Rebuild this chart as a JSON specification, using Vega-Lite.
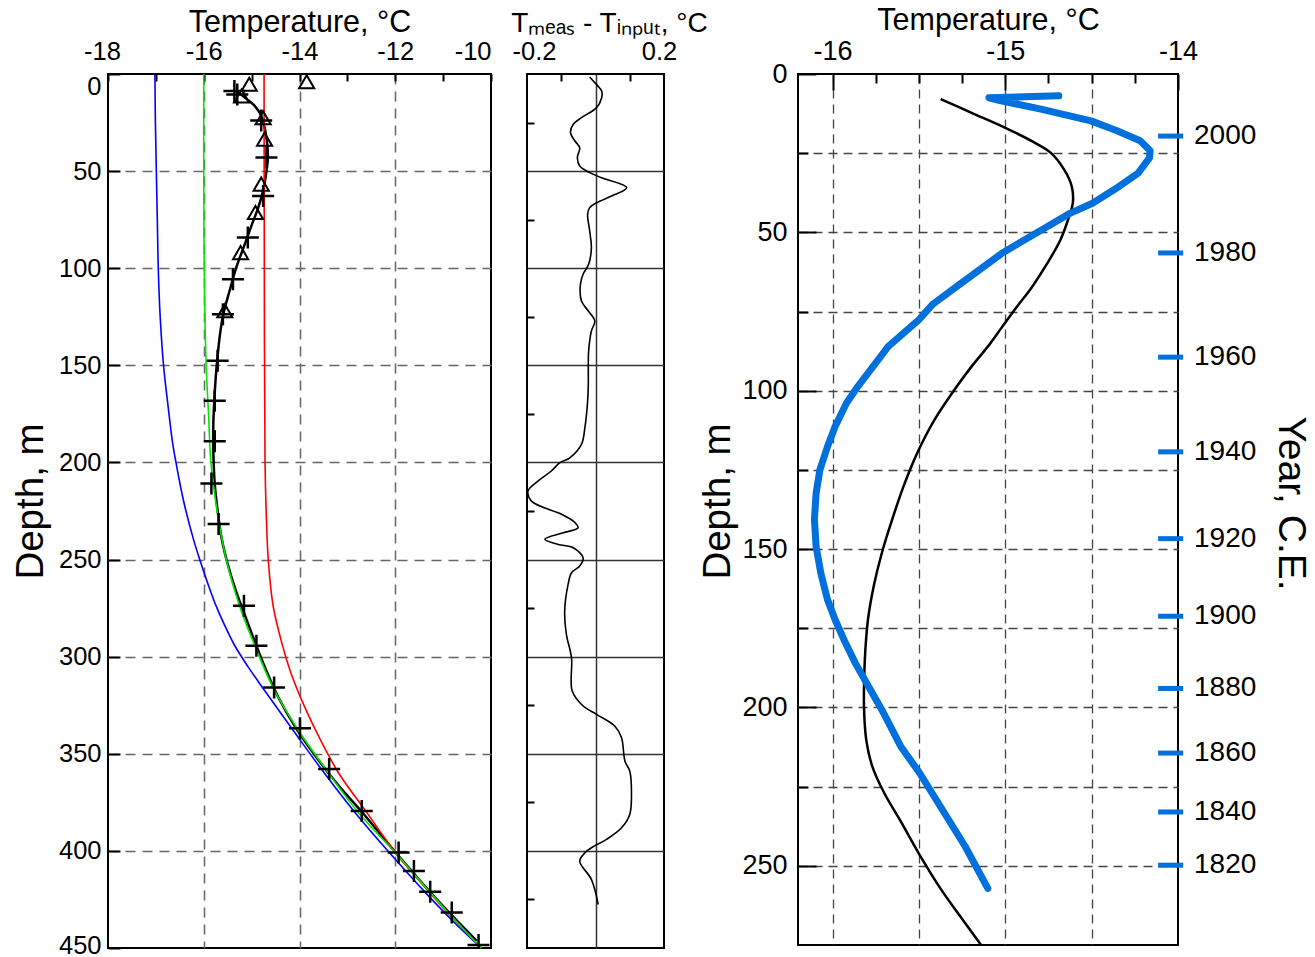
{
  "$schema": "https://vega.github.io/schema/vega-lite/v6.json",
  "background": "white",
  "padding": {"left": 10, "top": 4, "right": 8, "bottom": 4},
  "bounds": "flush",
  "spacing": 36,
  "config": {
    "font": "Liberation Sans",
    "view": {"stroke": "black", "strokeWidth": 2},
    "axis": {"domain": false, "labelColor": "black", "titleColor": "black", "titleFontWeight": "normal", "tickColor": "black", "tickWidth": 2, "labelFont": "Liberation Sans", "titleFont": "Liberation Sans", "labelFlush": false}
  },
  "datasets": {
    "fits": [
      {"model": "fit1", "depth": 0, "T": -17.02}, {"model": "fit1", "depth": 25, "T": -17.01}, {"model": "fit1", "depth": 50, "T": -16.99}, {"model": "fit1", "depth": 75, "T": -16.97}, {"model": "fit1", "depth": 100, "T": -16.95}, {"model": "fit1", "depth": 125, "T": -16.91}, {"model": "fit1", "depth": 150, "T": -16.84}, {"model": "fit1", "depth": 170, "T": -16.75}, {"model": "fit1", "depth": 190, "T": -16.65}, {"model": "fit1", "depth": 200, "T": -16.58}, {"model": "fit1", "depth": 220, "T": -16.42}, {"model": "fit1", "depth": 240, "T": -16.21}, {"model": "fit1", "depth": 251, "T": -16.07}, {"model": "fit1", "depth": 262, "T": -15.92}, {"model": "fit1", "depth": 274, "T": -15.74}, {"model": "fit1", "depth": 284, "T": -15.56}, {"model": "fit1", "depth": 294, "T": -15.36}, {"model": "fit1", "depth": 305, "T": -15.08}, {"model": "fit1", "depth": 316, "T": -14.77}, {"model": "fit1", "depth": 337, "T": -14.16}, {"model": "fit1", "depth": 358, "T": -13.54}, {"model": "fit1", "depth": 380, "T": -12.85}, {"model": "fit1", "depth": 401, "T": -12.12}, {"model": "fit1", "depth": 422, "T": -11.35}, {"model": "fit1", "depth": 436, "T": -10.8}, {"model": "fit1", "depth": 450, "T": -10.2},
      {"model": "fit2", "depth": 0, "T": -16.0}, {"model": "fit2", "depth": 50, "T": -16.0}, {"model": "fit2", "depth": 100, "T": -15.99}, {"model": "fit2", "depth": 150, "T": -15.95}, {"model": "fit2", "depth": 175, "T": -15.9}, {"model": "fit2", "depth": 200, "T": -15.85}, {"model": "fit2", "depth": 225, "T": -15.72}, {"model": "fit2", "depth": 250, "T": -15.53}, {"model": "fit2", "depth": 274, "T": -15.25}, {"model": "fit2", "depth": 294, "T": -14.94}, {"model": "fit2", "depth": 316, "T": -14.55}, {"model": "fit2", "depth": 337, "T": -14.05}, {"model": "fit2", "depth": 358, "T": -13.45}, {"model": "fit2", "depth": 380, "T": -12.78}, {"model": "fit2", "depth": 401, "T": -12.0}, {"model": "fit2", "depth": 422, "T": -11.25}, {"model": "fit2", "depth": 436, "T": -10.74}, {"model": "fit2", "depth": 450, "T": -10.2},
      {"model": "fit3", "depth": 0, "T": -14.74}, {"model": "fit3", "depth": 100, "T": -14.735}, {"model": "fit3", "depth": 200, "T": -14.72}, {"model": "fit3", "depth": 230, "T": -14.69}, {"model": "fit3", "depth": 251, "T": -14.65}, {"model": "fit3", "depth": 274, "T": -14.55}, {"model": "fit3", "depth": 292, "T": -14.38}, {"model": "fit3", "depth": 309, "T": -14.17}, {"model": "fit3", "depth": 326, "T": -13.89}, {"model": "fit3", "depth": 343, "T": -13.56}, {"model": "fit3", "depth": 360, "T": -13.18}, {"model": "fit3", "depth": 379, "T": -12.63}, {"model": "fit3", "depth": 401, "T": -11.99}, {"model": "fit3", "depth": 422, "T": -11.26}, {"model": "fit3", "depth": 436, "T": -10.75}, {"model": "fit3", "depth": 450, "T": -10.2}
    ],
    "profile": [
      {"depth": 9, "T": -15.3}, {"depth": 12, "T": -15.15}, {"depth": 16, "T": -14.95}, {"depth": 21.5, "T": -14.8}, {"depth": 32.8, "T": -14.69}, {"depth": 43, "T": -14.66}, {"depth": 50, "T": -14.69}, {"depth": 60, "T": -14.76}, {"depth": 68.7, "T": -14.86}, {"depth": 77.2, "T": -14.99}, {"depth": 87.5, "T": -15.14}, {"depth": 99.6, "T": -15.32}, {"depth": 111.6, "T": -15.46}, {"depth": 123.6, "T": -15.59}, {"depth": 133.9, "T": -15.66}, {"depth": 147.6, "T": -15.72}, {"depth": 156.3, "T": -15.75}, {"depth": 168.2, "T": -15.78}, {"depth": 180.3, "T": -15.8}, {"depth": 194, "T": -15.8}, {"depth": 211.2, "T": -15.77}, {"depth": 224.9, "T": -15.71}, {"depth": 238.6, "T": -15.63}, {"depth": 252.3, "T": -15.5}, {"depth": 266, "T": -15.33}, {"depth": 278, "T": -15.15}, {"depth": 291.8, "T": -14.94}, {"depth": 305.6, "T": -14.72}, {"depth": 321, "T": -14.44}, {"depth": 336.5, "T": -14.08}, {"depth": 351, "T": -13.67}, {"depth": 365.6, "T": -13.21}, {"depth": 381, "T": -12.66}, {"depth": 398.3, "T": -12.08}, {"depth": 412, "T": -11.6}, {"depth": 427.4, "T": -11.04}, {"depth": 446.3, "T": -10.3}
    ],
    "tri": [
      {"depth": 4, "T": -13.85}, {"depth": 5.3, "T": -15.05}, {"depth": 11.3, "T": -15.21}, {"depth": 22.5, "T": -14.76}, {"depth": 33.6, "T": -14.73}, {"depth": 56.7, "T": -14.8}, {"depth": 71.3, "T": -14.92}, {"depth": 92, "T": -15.23}, {"depth": 121.9, "T": -15.56}
    ],
    "plus": [
      {"depth": 8.8, "T": -15.36}, {"depth": 10.5, "T": -15.3}, {"depth": 24, "T": -14.8}, {"depth": 43, "T": -14.69}, {"depth": 62.8, "T": -14.76}, {"depth": 84.2, "T": -15.08}, {"depth": 105.7, "T": -15.39}, {"depth": 123.7, "T": -15.6}, {"depth": 147.6, "T": -15.71}, {"depth": 168.2, "T": -15.77}, {"depth": 189.1, "T": -15.77}, {"depth": 210.8, "T": -15.84}, {"depth": 231.7, "T": -15.69}, {"depth": 273.8, "T": -15.16}, {"depth": 294.4, "T": -14.9}, {"depth": 315.9, "T": -14.53}, {"depth": 336.8, "T": -13.99}, {"depth": 357.9, "T": -13.38}, {"depth": 379.4, "T": -12.7}, {"depth": 400.8, "T": -11.93}, {"depth": 410.3, "T": -11.61}, {"depth": 421.1, "T": -11.27}, {"depth": 431.7, "T": -10.82}, {"depth": 448.5, "T": -10.26}
    ],
    "diff": [
      {"depth": 1.5, "dT": -0.017}, {"depth": 4.5, "dT": -0.002}, {"depth": 8.8, "dT": 0.018}, {"depth": 12.2, "dT": 0.018}, {"depth": 17.3, "dT": 0.003}, {"depth": 22.5, "dT": -0.041}, {"depth": 25.9, "dT": -0.065}, {"depth": 30.2, "dT": -0.073}, {"depth": 34.5, "dT": -0.06}, {"depth": 38, "dT": -0.046}, {"depth": 43, "dT": -0.053}, {"depth": 47.4, "dT": -0.046}, {"depth": 50.8, "dT": -0.017}, {"depth": 53.4, "dT": 0.018}, {"depth": 58.5, "dT": 0.091}, {"depth": 62.8, "dT": 0.047}, {"depth": 66.3, "dT": 0.003}, {"depth": 68.8, "dT": -0.017}, {"depth": 72.2, "dT": -0.023}, {"depth": 80.8, "dT": -0.017}, {"depth": 89.4, "dT": -0.012}, {"depth": 98, "dT": -0.02}, {"depth": 103, "dT": -0.036}, {"depth": 108.3, "dT": -0.044}, {"depth": 116.9, "dT": -0.041}, {"depth": 122, "dT": -0.021}, {"depth": 127.2, "dT": -0.002}, {"depth": 132.3, "dT": -0.012}, {"depth": 142.6, "dT": -0.02}, {"depth": 151.2, "dT": -0.021}, {"depth": 159.8, "dT": -0.021}, {"depth": 168.4, "dT": -0.023}, {"depth": 182.1, "dT": -0.031}, {"depth": 190.7, "dT": -0.041}, {"depth": 197.6, "dT": -0.075}, {"depth": 200.1, "dT": -0.104}, {"depth": 204.4, "dT": -0.129}, {"depth": 209.6, "dT": -0.168}, {"depth": 214.7, "dT": -0.197}, {"depth": 219.9, "dT": -0.187}, {"depth": 226.7, "dT": -0.099}, {"depth": 230.2, "dT": -0.065}, {"depth": 233.6, "dT": -0.051}, {"depth": 236.2, "dT": -0.094}, {"depth": 239.6, "dT": -0.148}, {"depth": 242.2, "dT": -0.109}, {"depth": 243.9, "dT": -0.065}, {"depth": 249.1, "dT": -0.036}, {"depth": 253.3, "dT": -0.046}, {"depth": 256.8, "dT": -0.07}, {"depth": 262.8, "dT": -0.08}, {"depth": 276.5, "dT": -0.09}, {"depth": 288.5, "dT": -0.085}, {"depth": 300.6, "dT": -0.07}, {"depth": 317.7, "dT": -0.068}, {"depth": 325.4, "dT": -0.036}, {"depth": 329.7, "dT": 0.003}, {"depth": 335.7, "dT": 0.056}, {"depth": 341.7, "dT": 0.076}, {"depth": 353.8, "dT": 0.086}, {"depth": 358.9, "dT": 0.1}, {"depth": 370.9, "dT": 0.105}, {"depth": 381.2, "dT": 0.1}, {"depth": 388.1, "dT": 0.076}, {"depth": 394.1, "dT": 0.032}, {"depth": 398.4, "dT": -0.012}, {"depth": 401, "dT": -0.031}, {"depth": 405.3, "dT": -0.046}, {"depth": 414.7, "dT": -0.012}, {"depth": 427.6, "dT": 0.008}
    ],
    "model": [
      {"depth": 7.9, "T": -15.374}, {"depth": 12.2, "T": -15.198}, {"depth": 17, "T": -15.0}, {"depth": 21.2, "T": -14.846}, {"depth": 24.9, "T": -14.736}, {"depth": 30.2, "T": -14.659}, {"depth": 35.5, "T": -14.615}, {"depth": 40.8, "T": -14.609}, {"depth": 46.1, "T": -14.637}, {"depth": 52.4, "T": -14.681}, {"depth": 59.9, "T": -14.758}, {"depth": 67.3, "T": -14.846}, {"depth": 73.6, "T": -14.934}, {"depth": 80, "T": -15.02}, {"depth": 86, "T": -15.1}, {"depth": 92, "T": -15.19}, {"depth": 98.6, "T": -15.28}, {"depth": 109.2, "T": -15.41}, {"depth": 119.7, "T": -15.51}, {"depth": 130.2, "T": -15.589}, {"depth": 140.7, "T": -15.655}, {"depth": 151.3, "T": -15.715}, {"depth": 161.8, "T": -15.762}, {"depth": 172.3, "T": -15.795}, {"depth": 181.8, "T": -15.81}, {"depth": 189.2, "T": -15.816}, {"depth": 199.7, "T": -15.818}, {"depth": 210.2, "T": -15.805}, {"depth": 218.6, "T": -15.77}, {"depth": 227.1, "T": -15.7}, {"depth": 235.5, "T": -15.61}, {"depth": 247.1, "T": -15.49}, {"depth": 257.6, "T": -15.37}, {"depth": 266, "T": -15.26}, {"depth": 275, "T": -15.14}
    ],
    "recon": [
      {"depth": 6.9, "T": -14.69}, {"depth": 7.5, "T": -15.095}, {"depth": 8.4, "T": -15.03}, {"depth": 11, "T": -14.8}, {"depth": 14.8, "T": -14.504}, {"depth": 17.9, "T": -14.353}, {"depth": 21.1, "T": -14.219}, {"depth": 24.2, "T": -14.161}, {"depth": 26.5, "T": -14.165}, {"depth": 31.3, "T": -14.231}, {"depth": 35.5, "T": -14.341}, {"depth": 40.8, "T": -14.495}, {"depth": 44, "T": -14.626}, {"depth": 48.2, "T": -14.758}, {"depth": 52.4, "T": -14.89}, {"depth": 56.7, "T": -15.022}, {"depth": 62, "T": -15.154}, {"depth": 67.3, "T": -15.286}, {"depth": 72.6, "T": -15.418}, {"depth": 77.6, "T": -15.501}, {"depth": 81.8, "T": -15.589}, {"depth": 86, "T": -15.677}, {"depth": 92.3, "T": -15.765}, {"depth": 98.6, "T": -15.853}, {"depth": 103.9, "T": -15.919}, {"depth": 111.3, "T": -15.985}, {"depth": 117.6, "T": -16.029}, {"depth": 124.9, "T": -16.073}, {"depth": 132.3, "T": -16.095}, {"depth": 140.7, "T": -16.105}, {"depth": 149.2, "T": -16.095}, {"depth": 157.6, "T": -16.068}, {"depth": 166, "T": -16.029}, {"depth": 172.3, "T": -15.985}, {"depth": 178.6, "T": -15.934}, {"depth": 186, "T": -15.868}, {"depth": 192.3, "T": -15.803}, {"depth": 200.7, "T": -15.715}, {"depth": 212.3, "T": -15.605}, {"depth": 220.7, "T": -15.496}, {"depth": 232.3, "T": -15.364}, {"depth": 243.9, "T": -15.232}, {"depth": 257.1, "T": -15.101}
    ],
    "years": [
      {"year": 2000, "depth": 19.6}, {"year": 1980, "depth": 56.5}, {"year": 1960, "depth": 89.4}, {"year": 1940, "depth": 119.3}, {"year": 1920, "depth": 146.7}, {"year": 1900, "depth": 171.2}, {"year": 1880, "depth": 194}, {"year": 1860, "depth": 214.4}, {"year": 1840, "depth": 233}, {"year": 1820, "depth": 249.8}
    ],
    "empty": []
  },
  "hconcat": [
    {
      "width": 383,
      "height": 874,
      "encoding": {
        "x": {"field": "T", "type": "quantitative", "scale": {"domain": [-18, -10], "nice": false, "zero": false},
          "axis": {"orient": "top", "title": "Temperature, °C", "titleFontSize": 30.5, "titlePadding": 2,
            "values": [-18, -17, -16, -15, -14, -13, -12, -11, -10],
            "labelExpr": "datum.value % 2 == 0 ? '' + datum.value : ''", "labelFontSize": 25.5, "labelPadding": 17, "tickSize": -7,
            "labelAlign": {"condition": {"test": "datum.value == -10", "value": "right"}, "value": "center"},
            "labelOffset": {"condition": {"test": "datum.value == -18", "value": -6}, "value": 0},
            "grid": true, "gridColor": "#666666", "gridDash": [10, 7], "gridWidth": 1.5,
            "gridOpacity": {"condition": {"test": "datum.value % 2 == 0 && datum.value > -17.5 && datum.value < -10.5", "value": 1}, "value": 0}}},
        "y": {"field": "depth", "type": "quantitative", "scale": {"domain": [0, 450], "reverse": true, "nice": false, "zero": false},
          "axis": {"orient": "left", "title": "Depth, m", "titleFontSize": 38.5, "titlePadding": 8, "titleY": 427,
            "values": [0, 50, 100, 150, 200, 250, 300, 350, 400, 450],
            "labelExpr": "'' + datum.value", "labelFontSize": 25.5, "labelPadding": 19, "tickSize": -12,
            "labelBaseline": {"condition": {"test": "datum.value == 0", "value": "top"}, "value": "middle"},
            "labelOffset": {"condition": {"test": "datum.value == 450", "value": -3}, "value": 0},
            "grid": true, "gridColor": "#666666", "gridDash": [10, 7], "gridWidth": 1.5,
            "gridOpacity": {"condition": {"test": "datum.value > 10 && datum.value < 440", "value": 1}, "value": 0}}}
      },
      "layer": [
        {"data": {"name": "profile"}, "mark": {"type": "line", "color": "black", "strokeWidth": 2.5, "interpolate": "catmull-rom"}, "encoding": {"order": {"field": "depth", "type": "quantitative"}}},
        {"data": {"name": "fits"}, "transform": [{"filter": "datum.model == 'fit1'"}], "mark": {"type": "line", "color": "#0000ff", "strokeWidth": 1.6, "interpolate": "catmull-rom"}, "encoding": {"order": {"field": "depth", "type": "quantitative"}}},
        {"data": {"name": "fits"}, "transform": [{"filter": "datum.model == 'fit3'"}], "mark": {"type": "line", "color": "#ff0000", "strokeWidth": 1.6, "interpolate": "catmull-rom"}, "encoding": {"order": {"field": "depth", "type": "quantitative"}}},
        {"data": {"name": "fits"}, "transform": [{"filter": "datum.model == 'fit2'"}], "mark": {"type": "line", "color": "#00e600", "strokeWidth": 1.6, "interpolate": "catmull-rom"}, "encoding": {"order": {"field": "depth", "type": "quantitative"}}},
        {"data": {"name": "tri"}, "mark": {"type": "point", "shape": "triangle-up", "filled": false, "stroke": "black", "strokeWidth": 2, "size": 230, "opacity": 1}},
        {"data": {"name": "plus"}, "mark": {"type": "point", "shape": "M-1,0L1,0M0,-1L0,1", "filled": false, "stroke": "black", "strokeWidth": 2.5, "size": 484, "opacity": 1, "clip": true}}
      ]
    },
    {
      "width": 137,
      "height": 874,
      "data": {"name": "diff"},
      "mark": {"type": "line", "color": "black", "strokeWidth": 1.6, "interpolate": "catmull-rom"},
      "encoding": {
        "x": {"field": "dT", "type": "quantitative", "scale": {"domain": [-0.2, 0.2], "nice": false, "zero": false},
          "axis": {"orient": "top", "title": "Tₘₑₐₛ - Tᵢₙₚᵤₜ, °C", "titleFontSize": 28, "titlePadding": 2, "titleX": 82, "titleAlign": "center",
            "values": [-0.2, -0.1, 0, 0.1, 0.2],
            "labelExpr": "datum.value < -0.15 ? '-0.2' : (datum.value > 0.15 ? '0.2' : '')", "labelFontSize": 25.5, "labelPadding": 17, "tickSize": -7,
            "labelOffset": {"condition": {"test": "datum.value < 0", "value": 7}, "value": -5},
            "tickOpacity": {"condition": {"test": "abs(datum.value) > 0.05 && abs(datum.value) < 0.15", "value": 1}, "value": 0},
            "grid": true, "gridColor": "#333333", "gridWidth": 1.5,
            "gridOpacity": {"condition": {"test": "abs(datum.value) < 0.05", "value": 1}, "value": 0}}},
        "y": {"field": "depth", "type": "quantitative", "scale": {"domain": [0, 450], "reverse": true, "nice": false, "zero": false},
          "axis": {"orient": "left", "title": null, "labels": false,
            "values": [25, 50, 75, 100, 125, 150, 175, 200, 225, 250, 275, 300, 325, 350, 375, 400, 425],
            "tickSize": -7,
            "tickOpacity": {"condition": {"test": "datum.value % 50 != 0", "value": 1}, "value": 0},
            "grid": true, "gridColor": "#333333", "gridWidth": 1.5,
            "gridOpacity": {"condition": {"test": "datum.value % 50 == 0", "value": 1}, "value": 0}}},
        "order": {"field": "depth", "type": "quantitative"}
      }
    },
    {
      "width": 62,
      "height": 874,
      "view": {"stroke": null},
      "data": {"name": "empty"},
      "mark": {"type": "point", "opacity": 0}
    },
    {
      "width": 380,
      "height": 871,
      "resolve": {"axis": {"y": "independent"}},
      "layer": [
        {
          "data": {"name": "model"},
          "mark": {"type": "line", "color": "black", "strokeWidth": 2.5, "interpolate": "catmull-rom"},
          "encoding": {
            "x": {"field": "T", "type": "quantitative", "scale": {"domain": [-16.2, -14], "nice": false, "zero": false},
              "axis": {"orient": "top", "title": "Temperature, °C", "titleFontSize": 30.5, "titlePadding": 2,
                "values": [-16, -15.75, -15.5, -15.25, -15, -14.75, -14.5, -14.25, -14],
                "labelExpr": "datum.value % 1 == 0 ? '' + datum.value : ''", "labelFontSize": 27, "labelPadding": 25,
                "tickSize": {"condition": {"test": "datum.value % 1 == 0", "value": -16}, "value": -9},
                "grid": true, "gridColor": "#444444", "gridDash": [9, 6], "gridWidth": 1.3,
                "gridOpacity": {"condition": {"test": "datum.value % 0.5 == 0 && datum.value < -14.1", "value": 1}, "value": 0}}},
            "y": {"field": "depth", "type": "quantitative", "scale": {"domain": [0, 275], "reverse": true, "nice": false, "zero": false},
              "axis": {"orient": "left", "title": "Depth, m", "titleFontSize": 38.5, "titlePadding": 4, "titleY": 427,
                "values": [0, 25, 50, 75, 100, 125, 150, 175, 200, 225, 250],
                "labelExpr": "datum.value % 50 == 0 ? '' + datum.value : ''", "labelFontSize": 27, "labelPadding": 29,
                "tickSize": {"condition": {"test": "datum.value % 50 == 0", "value": -18}, "value": -10},
                "grid": true, "gridColor": "#444444", "gridDash": [9, 6], "gridWidth": 1.3,
                "gridOpacity": {"condition": {"test": "datum.value > 10", "value": 1}, "value": 0}}},
            "order": {"field": "depth", "type": "quantitative"}
          }
        },
        {
          "data": {"name": "recon"},
          "mark": {"type": "line", "color": "#0070dc", "strokeWidth": 7, "strokeCap": "round", "strokeJoin": "round"},
          "encoding": {
            "x": {"field": "T", "type": "quantitative"},
            "y": {"field": "depth", "type": "quantitative", "axis": null},
            "order": {"field": "depth", "type": "quantitative"}
          }
        },
        {
          "data": {"name": "years"},
          "mark": {"type": "rule", "color": "#0070dc", "strokeWidth": 5},
          "encoding": {
            "x": {"datum": -14.115, "type": "quantitative"},
            "x2": {"datum": -13.97},
            "y": {"field": "depth", "type": "quantitative", "axis": null}
          }
        },
        {
          "data": {"name": "years"},
          "mark": {"type": "text", "align": "left", "baseline": "middle", "dx": 16, "fontSize": 28, "color": "black"},
          "encoding": {
            "x": {"datum": -14, "type": "quantitative"},
            "y": {"field": "depth", "type": "quantitative",
              "axis": {"orient": "right", "title": "Year, C.E.", "titleFontSize": 39, "titlePadding": 92, "titleY": 429, "labels": false, "ticks": false, "grid": false, "domain": false}},
            "text": {"field": "year", "type": "nominal"}
          }
        }
      ]
    }
  ]
}
